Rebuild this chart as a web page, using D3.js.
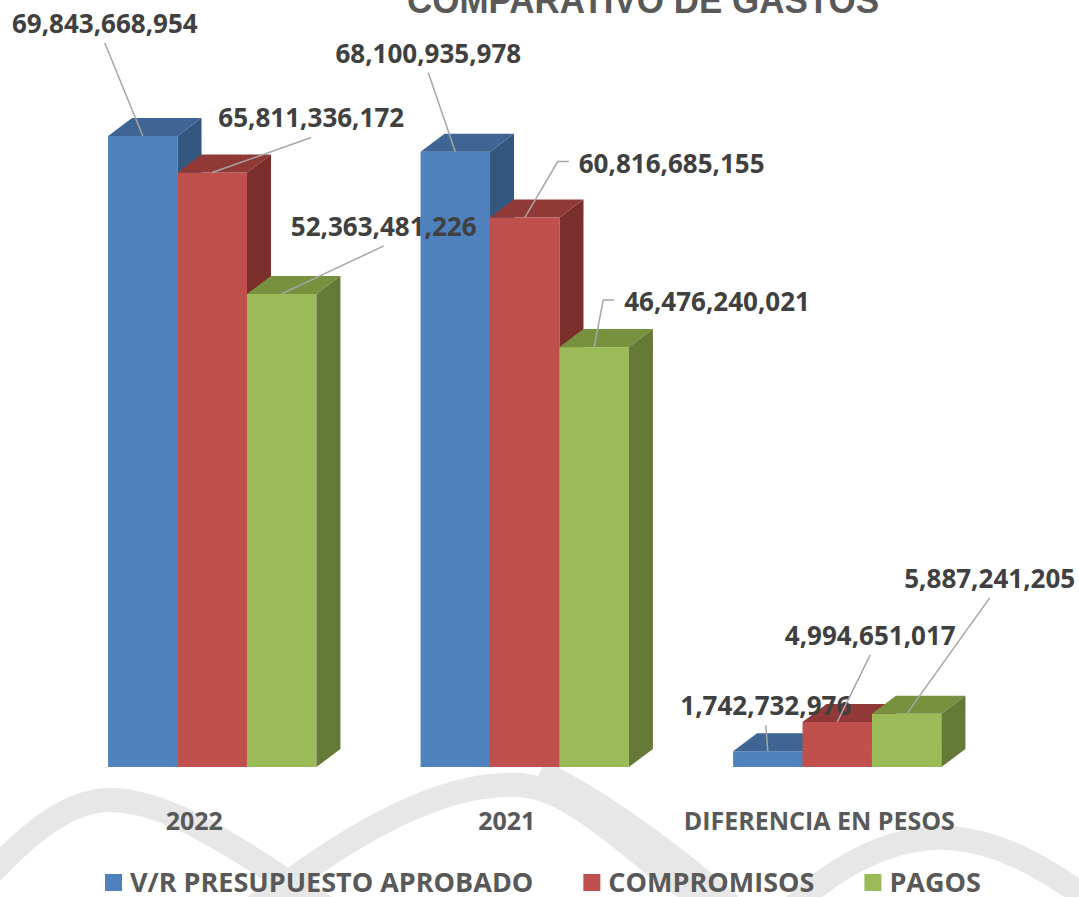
<!DOCTYPE html>
<html>
<head>
<meta charset="utf-8">
<script src="https://cdn.jsdelivr.net/npm/d3@7"></script>
<style>
    html, body { margin: 0; padding: 0; background: #ffffff; }
    svg { display: block; }
</style>
</head>
<body>
<svg id="chart" width="1079" height="897"></svg>
<script>
// data
var categories = ['2022', '2021', 'DIFERENCIA EN PESOS'];
var seriesNames = ['V/R PRESUPUESTO APROBADO', 'COMPROMISOS', 'PAGOS'];
var presupuesto = [69843668954, 68100935978, 1742732976];
var compromisos = [65811336172, 60816685155, 4994651017];
var pagos = [52363481226, 46476240021, 5887241205];

var seriesValues = [presupuesto, compromisos, pagos];

// front, top and side shades for every series
var colors = [
    { front: '#4f81bd', top: '#3e6593', side: '#34577f' },
    { front: '#c0504d', top: '#913937', side: '#7b2f2d' },
    { front: '#9bbb59', top: '#77913f', side: '#657a36' }
];

// manual label placement (offset from the bar's front top centre), as in the original
// type c: label centred above the leader, s: label to the right with an elbow
var labelLayout = [
    [{ t: 'c', dx: -38, dy: -103 }, { t: 'c', dx: -27, dy: -89 }, { t: 'c', dx: -2, dy: -36 }],
    [{ t: 'c', dx: 99, dy: -45 }, { t: 's', dx: 54, dy: -45 }, { t: 'c', dx: 33, dy: -77 }],
    [{ t: 'c', dx: 102, dy: -58 }, { t: 's', dx: 30, dy: -36 }, { t: 'c', dx: 83, dy: -126 }]
];

var svg = d3.select('#chart'),
    depthX = 24,
    depthY = 18,
    labelFont = "'Open Sans', sans-serif";

// background watermark
var wm = svg.append('g')
    .attr('fill', 'none')
    .attr('stroke', '#e7e7e8')
    .attr('stroke-width', 24)
    .attr('stroke-linecap', 'butt');

wm.append('path').attr('d', 'M-20,885 C30,830 70,800 110,800 C170,800 240,850 330,910');
wm.append('path').attr('d', 'M250,910 C330,850 430,780 520,785 C560,788 600,820 660,870 C690,893 720,905 740,910');
wm.append('path').attr('d', 'M540,772 C600,800 680,860 730,905');
wm.append('path').attr('d', 'M790,910 C840,860 900,835 950,838 C1000,842 1040,865 1090,900');

var x0 = d3.scaleBand()
    .domain(categories)
    .range([56, 993.5])
    .paddingInner(1 / 3)
    .paddingOuter(1 / 6);

var x1 = d3.scaleBand()
    .domain(d3.range(seriesNames.length))
    .range([0, x0.bandwidth()]);

var y = d3.scaleLinear()
    .domain([0, 70e9])
    .range([767, 134.6]);

var fmt = d3.format(',');

// title (cut off by the top edge in the original)
svg.append('text')
    .attr('x', 643)
    .attr('y', 13)
    .attr('text-anchor', 'middle')
    .attr('font-family', "'Liberation Sans', Arial, sans-serif")
    .attr('font-weight', 'bold')
    .attr('font-size', 36)
    .attr('textLength', 472)
    .attr('lengthAdjust', 'spacingAndGlyphs')
    .attr('fill', '#595959')
    .text('COMPARATIVO DE GASTOS');

var groups = svg.selectAll('.group')
    .data(categories)
    .enter().append('g')
    .attr('class', 'group')
    .attr('transform', function (d) {

        return 'translate(' + x0(d) + ',0)';

    });

var bars = groups.selectAll('.bar')
    .data(function (d, ci) {

        return seriesValues.map(function (vals, si) {

            return { cat: ci, s: si, value: vals[ci] };

        });

    })
    .enter().append('g')
    .attr('class', 'bar');

// front face
bars.append('rect')
    .attr('x', function (d) { return x1(d.s); })
    .attr('y', function (d) { return y(d.value); })
    .attr('width', x1.bandwidth())
    .attr('height', function (d) { return y(0) - y(d.value); })
    .attr('fill', function (d) { return colors[d.s].front; });

// top face
bars.append('path')
    .attr('d', function (d) {

        var l = x1(d.s), r = l + x1.bandwidth(), t = y(d.value);
        return 'M' + l + ',' + t + 'L' + (l + depthX) + ',' + (t - depthY) +
            'L' + (r + depthX) + ',' + (t - depthY) + 'L' + r + ',' + t + 'Z';

    })
    .attr('fill', function (d) { return colors[d.s].top; });

// side face
bars.append('path')
    .attr('d', function (d) {

        var r = x1(d.s) + x1.bandwidth(), t = y(d.value), b = y(0);
        return 'M' + r + ',' + t + 'L' + (r + depthX) + ',' + (t - depthY) +
            'L' + (r + depthX) + ',' + (b - depthY) + 'L' + r + ',' + b + 'Z';

    })
    .attr('fill', function (d) { return colors[d.s].side; });

// leader lines and value labels
var labels = svg.append('g');

categories.forEach(function (cat, ci) {

    seriesValues.forEach(function (vals, si) {

        var bx = x0(cat) + x1(si) + x1.bandwidth() / 2,
            by = y(vals[ci]),
            lay = labelLayout[si][ci],
            lx = bx + lay.dx,
            ly = by + lay.dy,
            points;

        if (lay.t === 'c')
            points = [[bx, by], [lx, ly + 10]];
        else
            points = [[bx, by], [lx - 21, ly - 11], [lx - 10, ly - 11]];

        labels.append('path')
            .attr('d', d3.line()(points))
            .attr('fill', 'none')
            .attr('stroke', '#a6a6a6')
            .attr('stroke-width', 1.5);

        labels.append('text')
            .attr('x', lx)
            .attr('y', ly)
            .attr('text-anchor', lay.t === 'c' ? 'middle' : 'start')
            .attr('font-family', labelFont)
            .attr('font-weight', 'bold')
            .attr('font-size', 26)
            .attr('fill', '#404040')
            .text(fmt(vals[ci]));

    });

});

// category labels
svg.selectAll('.cat-label')
    .data(categories)
    .enter().append('text')
    .attr('class', 'cat-label')
    .attr('x', function (d) { return x0(d) + x0.bandwidth() / 2 - 18; })
    .attr('y', 830)
    .attr('text-anchor', 'middle')
    .attr('font-family', labelFont)
    .attr('font-weight', 'bold')
    .attr('font-size', 25)
    .attr('fill', '#595959')
    .text(function (d) { return d; });

// legend
var legend = svg.append('g').attr('transform', 'translate(105,0)'),
    cursor = 0;

seriesNames.forEach(function (name, i) {

    var item = legend.append('g').attr('transform', 'translate(' + cursor + ',0)');

    item.append('rect')
        .attr('x', 0)
        .attr('y', 874)
        .attr('width', 17)
        .attr('height', 17)
        .attr('fill', colors[i].front);

    var t = item.append('text')
        .attr('x', 25)
        .attr('y', 892)
        .attr('font-family', labelFont)
        .attr('font-weight', 'bold')
        .attr('font-size', 27)
        .attr('fill', '#595959')
        .text(name);

    cursor += 25 + t.node().getComputedTextLength() + 50;

});
</script>
</body>
</html>
